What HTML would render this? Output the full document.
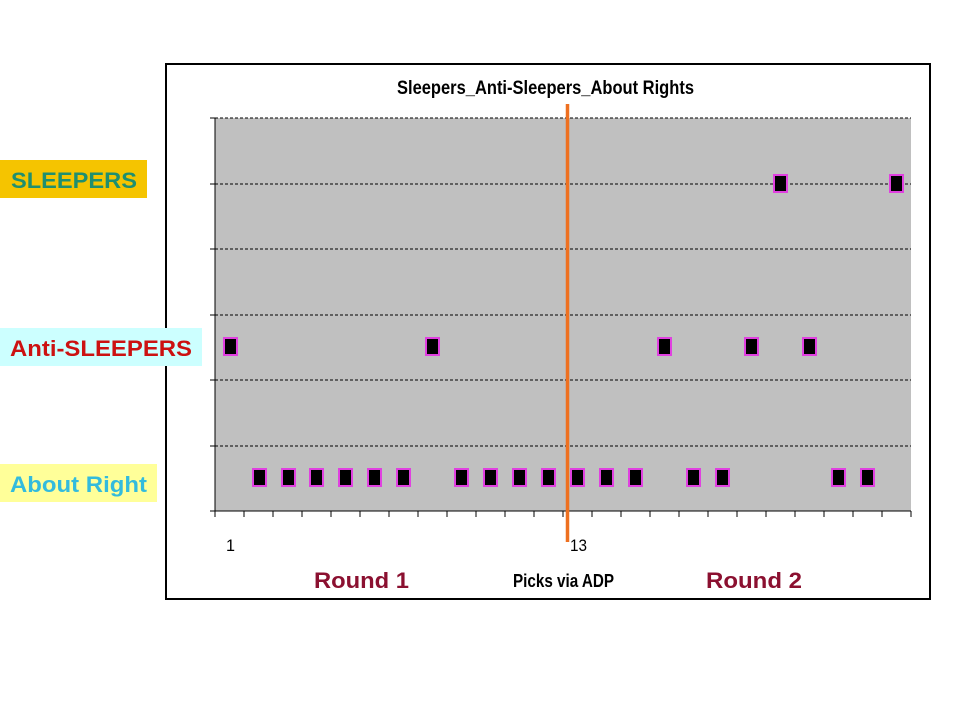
<!DOCTYPE html>
<html><head><meta charset="utf-8"><style>
html,body{margin:0;padding:0;background:#fff;width:960px;height:720px;overflow:hidden}
svg{display:block}
</style></head><body>
<svg width="960" height="720" viewBox="0 0 960 720" xmlns="http://www.w3.org/2000/svg" font-family="Liberation Sans, sans-serif">
<rect x="0" y="0" width="960" height="720" fill="#fff"/>
<rect x="166" y="64" width="764" height="535" fill="#fff" stroke="#000" stroke-width="2"/>
<text x="397" y="94" font-size="19" font-weight="bold" fill="#000" textLength="297" lengthAdjust="spacingAndGlyphs">Sleepers_Anti-Sleepers_About Rights</text>
<rect x="215" y="118" width="696" height="393" fill="#c0c0c0"/>
<g stroke="#000" stroke-width="1" stroke-dasharray="3,2">
<line x1="215" y1="118" x2="911" y2="118"/>
<line x1="215" y1="184" x2="911" y2="184"/>
<line x1="215" y1="249" x2="911" y2="249"/>
<line x1="215" y1="315" x2="911" y2="315"/>
<line x1="215" y1="380" x2="911" y2="380"/>
<line x1="215" y1="446" x2="911" y2="446"/>
</g>
<g stroke="#000" stroke-width="1">
<line x1="215" y1="118" x2="215" y2="517"/>
<line x1="210" y1="118" x2="215" y2="118"/>
<line x1="210" y1="184" x2="215" y2="184"/>
<line x1="210" y1="249" x2="215" y2="249"/>
<line x1="210" y1="315" x2="215" y2="315"/>
<line x1="210" y1="380" x2="215" y2="380"/>
<line x1="210" y1="446" x2="215" y2="446"/>
<line x1="210" y1="511" x2="911" y2="511"/>
</g>
<g stroke="#000" stroke-width="1">
<line x1="244" y1="511" x2="244" y2="517"/><line x1="273" y1="511" x2="273" y2="517"/><line x1="302" y1="511" x2="302" y2="517"/><line x1="331" y1="511" x2="331" y2="517"/><line x1="360" y1="511" x2="360" y2="517"/><line x1="389" y1="511" x2="389" y2="517"/><line x1="418" y1="511" x2="418" y2="517"/><line x1="447" y1="511" x2="447" y2="517"/><line x1="476" y1="511" x2="476" y2="517"/><line x1="505" y1="511" x2="505" y2="517"/><line x1="534" y1="511" x2="534" y2="517"/><line x1="563" y1="511" x2="563" y2="517"/><line x1="592" y1="511" x2="592" y2="517"/><line x1="621" y1="511" x2="621" y2="517"/><line x1="650" y1="511" x2="650" y2="517"/><line x1="679" y1="511" x2="679" y2="517"/><line x1="708" y1="511" x2="708" y2="517"/><line x1="737" y1="511" x2="737" y2="517"/><line x1="766" y1="511" x2="766" y2="517"/><line x1="795" y1="511" x2="795" y2="517"/><line x1="824" y1="511" x2="824" y2="517"/><line x1="853" y1="511" x2="853" y2="517"/><line x1="882" y1="511" x2="882" y2="517"/><line x1="911" y1="511" x2="911" y2="517"/>
</g>
<g fill="#000" stroke="#e040e0" stroke-width="2">
<rect x="774" y="175" width="13" height="17"/><rect x="890" y="175" width="13" height="17"/>
<rect x="224" y="338" width="13" height="17"/><rect x="426" y="338" width="13" height="17"/><rect x="658" y="338" width="13" height="17"/><rect x="745" y="338" width="13" height="17"/><rect x="803" y="338" width="13" height="17"/>
<rect x="253" y="469" width="13" height="17"/><rect x="282" y="469" width="13" height="17"/><rect x="310" y="469" width="13" height="17"/><rect x="339" y="469" width="13" height="17"/><rect x="368" y="469" width="13" height="17"/><rect x="397" y="469" width="13" height="17"/><rect x="455" y="469" width="13" height="17"/><rect x="484" y="469" width="13" height="17"/><rect x="513" y="469" width="13" height="17"/><rect x="542" y="469" width="13" height="17"/><rect x="571" y="469" width="13" height="17"/><rect x="600" y="469" width="13" height="17"/><rect x="629" y="469" width="13" height="17"/><rect x="687" y="469" width="13" height="17"/><rect x="716" y="469" width="13" height="17"/><rect x="832" y="469" width="13" height="17"/><rect x="861" y="469" width="13" height="17"/>
</g>
<line x1="567.5" y1="104" x2="567.5" y2="542" stroke="#ee7020" stroke-width="3.5"/>
<text x="226" y="551" font-size="17" fill="#000" textLength="9" lengthAdjust="spacingAndGlyphs">1</text>
<text x="570" y="551" font-size="17" fill="#000" textLength="17" lengthAdjust="spacingAndGlyphs">13</text>
<text x="314" y="588" font-size="22" font-weight="bold" fill="#8b1030" textLength="95" lengthAdjust="spacingAndGlyphs">Round 1</text>
<text x="706" y="588" font-size="22" font-weight="bold" fill="#8b1030" textLength="96" lengthAdjust="spacingAndGlyphs">Round 2</text>
<text x="513" y="587" font-size="18" font-weight="bold" fill="#000" textLength="101" lengthAdjust="spacingAndGlyphs">Picks via ADP</text>
<rect x="0" y="160" width="147" height="38" fill="#f5c400"/>
<text x="11" y="188" font-size="22" font-weight="bold" fill="#1f8f6f" textLength="126" lengthAdjust="spacingAndGlyphs">SLEEPERS</text>
<rect x="0" y="328" width="202" height="38" fill="#ccffff"/>
<text x="10" y="356" font-size="22" font-weight="bold" fill="#cc1111" textLength="182" lengthAdjust="spacingAndGlyphs">Anti-SLEEPERS</text>
<rect x="0" y="464" width="157" height="38" fill="#ffff99"/>
<text x="10" y="492" font-size="22" font-weight="bold" fill="#33bbdd" textLength="137" lengthAdjust="spacingAndGlyphs">About Right</text>
</svg>
</body></html>
